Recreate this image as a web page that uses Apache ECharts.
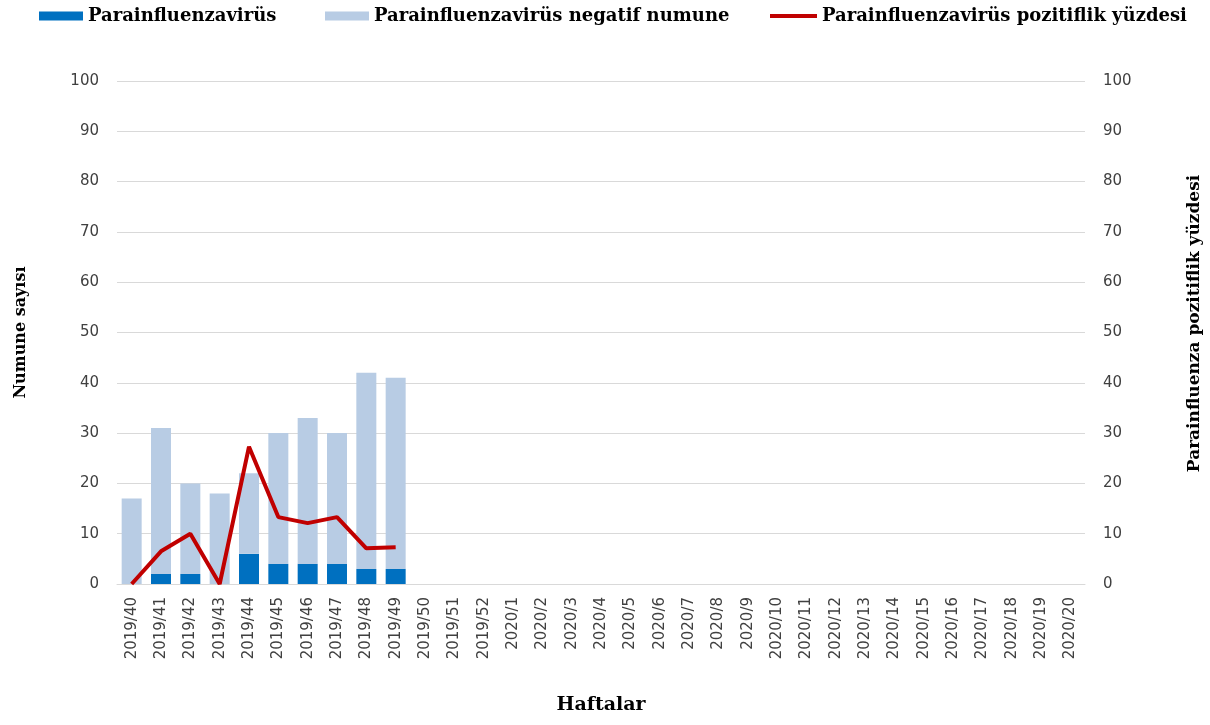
<!DOCTYPE html>
<html>
<head>
<meta charset="utf-8">
<script src="https://cdn.jsdelivr.net/npm/echarts@6/dist/echarts.min.js"></script>
<style>
  html, body { margin: 0; padding: 0; background: #fff; }
  #main { width: 1210px; height: 725px; }
</style>
</head>
<body>
<div id="main"></div>
<script>
// haftalar
var weeks = ['2019/40', '2019/41', '2019/42', '2019/43', '2019/44', '2019/45', '2019/46', '2019/47',
  '2019/48', '2019/49', '2019/50', '2019/51', '2019/52', '2020/1', '2020/2', '2020/3', '2020/4',
  '2020/5', '2020/6', '2020/7', '2020/8', '2020/9', '2020/10', '2020/11', '2020/12', '2020/13',
  '2020/14', '2020/15', '2020/16', '2020/17', '2020/18', '2020/19', '2020/20']
var positive = [0, 2, 2, 0, 6, 4, 4, 4, 3, 3]
var negative = [17, 29, 18, 18, 16, 26, 29, 26, 39, 38]
var percent = [0, 6.5, 10, 0, 27.3, 13.3, 12.1, 13.3, 7.1, 7.3]

var serif = '"DejaVu Serif", "Times New Roman", serif'
var sans = '"DejaVu Sans", Arial, sans-serif'
var legendText = { fontFamily: serif, fontWeight: 'bold', fontSize: 18, color: '#000' }

var option = {
  animation: false,
  legend: [
    { left: 39, top: 7, padding: 0, itemWidth: 44, itemHeight: 9, textStyle: legendText,
      data: [{ name: 'Parainfluenzavirüs', icon: 'rect' }] },
    { left: 325, top: 7, padding: 0, itemWidth: 44, itemHeight: 9, textStyle: legendText,
      data: [{ name: 'Parainfluenzavirüs negatif numune', icon: 'rect' }] },
    { left: 770, top: 7, padding: 0, itemWidth: 47, itemHeight: 4, textStyle: legendText,
      data: [{ name: 'Parainfluenzavirüs pozitiflik yüzdesi', icon: 'rect' }] }
  ],
  grid: { left: 117, right: 125, top: 81, bottom: 141, outerBoundsMode: 'none' },
  xAxis: {
    type: 'category',
    data: weeks,
    name: 'Haftalar',
    nameLocation: 'middle',
    nameGap: 112,
    nameTextStyle: { fontFamily: serif, fontWeight: 'bold', fontSize: 19, color: '#000' },
    axisLine: { lineStyle: { color: '#d9d9d9' } },
    axisTick: { show: false },
    axisLabel: { rotate: 90, interval: 0, margin: 13, fontFamily: sans, fontSize: 15, color: '#404040' }
  },
  yAxis: [
    {
      type: 'value', min: 0, max: 100, interval: 10,
      name: 'Numune sayısı',
      nameLocation: 'middle',
      nameGap: 88,
      nameTextStyle: { fontFamily: serif, fontWeight: 'bold', fontSize: 16, color: '#000' },
      axisLabel: { fontFamily: sans, fontSize: 15, color: '#404040', margin: 18 },
      splitLine: { lineStyle: { color: '#d9d9d9' } }
    },
    {
      type: 'value', min: 0, max: 100, interval: 10, position: 'right',
      name: 'Parainfluenza pozitiflik yüzdesi',
      nameLocation: 'middle',
      nameRotate: 90,
      nameGap: 101,
      nameTextStyle: { fontFamily: serif, fontWeight: 'bold', fontSize: 17, color: '#000', padding: [0, 0, 0, 18] },
      axisLabel: { fontFamily: sans, fontSize: 15, color: '#404040', margin: 18 },
      splitLine: { show: false }
    }
  ],
  series: [
    {
      name: 'Parainfluenzavirüs', type: 'bar', stack: 'total', barWidth: 20,
      itemStyle: { color: '#0070C0' }, data: positive
    },
    {
      name: 'Parainfluenzavirüs negatif numune', type: 'bar', stack: 'total', barWidth: 20,
      itemStyle: { color: '#B8CCE4' }, data: negative
    },
    {
      name: 'Parainfluenzavirüs pozitiflik yüzdesi', type: 'line', yAxisIndex: 1,
      symbol: 'none', lineStyle: { color: '#C00000', width: 4 },
      itemStyle: { color: '#C00000' }, data: percent
    }
  ]
}

var myChart = echarts.init(document.getElementById('main'))
myChart.setOption(option)
</script>
</body>
</html>
